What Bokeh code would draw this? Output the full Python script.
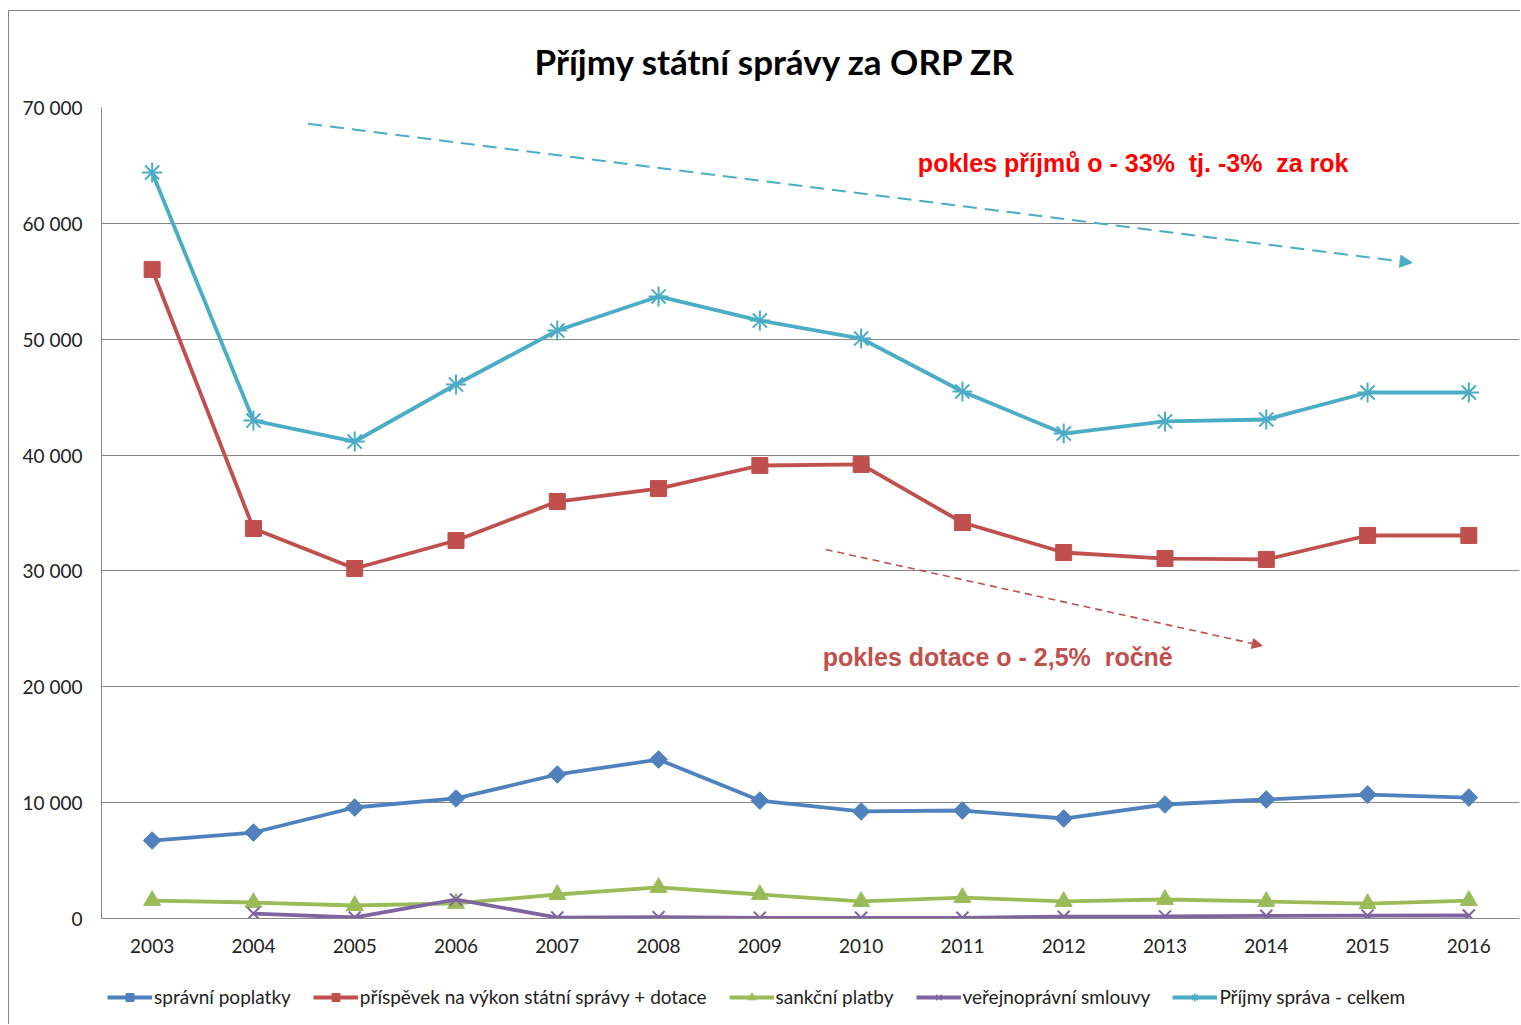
import math
from bokeh.plotting import figure
from bokeh.layouts import column
from bokeh.models import (Range1d, FixedTicker, Legend, LegendItem,
                          Arrow, NormalHead, Title)
from bokeh.embed import file_html
from bokeh.resources import INLINE
from bokeh.core.properties import value

# ---------------- data ----------------
years = ["2003", "2004", "2005", "2006", "2007", "2008", "2009",
         "2010", "2011", "2012", "2013", "2014", "2015", "2016"]
spravni_poplatky = [6730, 7420, 9580, 10360, 12430, 13720, 10180,
                    9240, 9320, 8630, 9840, 10270, 10700, 10440]
prispevek = [56020, 33660, 30210, 32630, 35990, 37110, 39100,
             39190, 34180, 31590, 31070, 30990, 33060, 33060]
sankcni = [1550, 1380, 1120, 1300, 2070, 2680, 2070,
           1470, 1810, 1470, 1640, 1470, 1290, 1550]
verejnopravni = [float("nan"), 430, 90, 1640, 80, 120, 60,
                 60, 60, 150, 180, 230, 250, 260]
celkem = [64390, 42980, 41170, 46090, 50750, 53690, 51610,
          50060, 45490, 41860, 42900, 43070, 45400, 45400]

series_names = ["správní poplatky", "příspěvek na výkon státní správy + dotace",
                "sankční platby", "veřejnoprávní smlouvy", "Příjmy správa - celkem"]

yticks = [0, 10000, 20000, 30000, 40000, 50000, 60000, 70000]
ytick_labels = ["0", "10 000", "20 000", "30 000", "40 000", "50 000", "60 000", "70 000"]

title_text = "Příjmy státní správy za ORP ZR"

# annotations (trend arrows + notes); x in category-slot units, y in data units
trend_total_x = [2.04, 12.94]
trend_total_y = [68600, 56600]
trend_dotace_x = [7.15, 11.46]
trend_dotace_y = [31850, 23550]
note_total = "pokles příjmů o - 33%\u00a0 tj. -3%\u00a0 za rok"
note_total_xy = [8.06, 65250]
note_dotace = "pokles dotace o - 2,5%\u00a0 ročně"
note_dotace_xy = [7.12, 22530]

# category slots: each year sits in the middle of its slot
xpos = [i + 0.5 for i in range(len(years))]

# ---------------- main figure ----------------
p = figure(x_range=Range1d(0, len(years)), y_range=Range1d(0, 70000),
           width=1511, height=952, output_backend="svg", toolbar_location=None,
           min_border_left=92, min_border_right=1, min_border_top=96, min_border_bottom=45)
p.outline_line_color = None
p.background_fill_color = "white"
p.border_fill_color = "white"

p.add_layout(Title(text=title_text, align="left", offset=433, text_font="Lato",
                   text_font_size="35px", text_font_style="bold", text_color="#000000",
                   standoff=51), "above")

grid_col = "#868686"
p.xgrid.grid_line_color = None
p.ygrid.grid_line_color = grid_col
p.ygrid.grid_line_width = 1
p.yaxis.ticker = FixedTicker(ticks=yticks)
p.yaxis.major_label_overrides = {t: l for t, l in zip(yticks, ytick_labels)}
p.xaxis.ticker = FixedTicker(ticks=xpos)
p.xaxis.major_label_overrides = {x: y for x, y in zip(xpos, years)}
for ax in (p.xaxis, p.yaxis):
    ax.axis_line_color = grid_col
    ax.major_tick_line_color = None
    ax.minor_tick_line_color = None
    ax.major_tick_out = 0
    ax.major_tick_in = 0
    ax.major_label_text_font = "Lato"
    ax.major_label_text_font_size = "19px"
    ax.major_label_text_color = "#222222"
p.yaxis.major_label_standoff = 19
p.xaxis.major_label_standoff = 20

colors = ["#4F81BD", "#C0504D", "#9BBB59", "#8064A2", "#4BACC6"]
datas = [spravni_poplatky, prispevek, sankcni, verejnopravni, celkem]
markers = ["square", "square", "triangle", "x", "asterisk"]
sizes = [12.5, 16, 17, 17, 20]
legend_sizes = [10, 12, 13, 13, 15]
angles = [math.pi / 4, 0, 0, 0, 0]

for col, d, m, s, a in zip(colors, datas, markers, sizes, angles):
    p.line(xpos, d, line_color=col, line_width=3.8)
    if m in ("x", "asterisk"):
        p.scatter(xpos, d, marker=m, size=s, line_color=col, line_width=2)
    else:
        p.scatter(xpos, d, marker=m, size=s, angle=a, fill_color=col, line_color=col)

# trend arrows
p.add_layout(Arrow(x_start=trend_total_x[0], y_start=trend_total_y[0],
                   x_end=trend_total_x[1], y_end=trend_total_y[1],
                   line_color="#4BACC6", line_width=2, line_dash="14 8",
                   end=NormalHead(size=12, fill_color="#4BACC6", line_color="#4BACC6")))
p.add_layout(Arrow(x_start=trend_dotace_x[0], y_start=trend_dotace_y[0],
                   x_end=trend_dotace_x[1], y_end=trend_dotace_y[1],
                   line_color="#C0504D", line_width=1.6, line_dash="7 5",
                   end=NormalHead(size=10, fill_color="#C0504D", line_color="#C0504D")))

p.text(x=[note_total_xy[0]], y=[note_total_xy[1]], text=[note_total],
       text_font=value("Liberation Sans"), text_font_style="bold", text_font_size="25px",
       text_color="#FF0000", text_baseline="middle", text_align="left")
p.text(x=[note_dotace_xy[0]], y=[note_dotace_xy[1]], text=[note_dotace],
       text_font=value("Liberation Sans"), text_font_style="bold", text_font_size="25px",
       text_color="#C0504D", text_baseline="middle", text_align="left")

# ---------------- legend strip below the chart ----------------
# the same series are drawn here far outside this strip's range, so only the legend shows
pl = figure(x_range=Range1d(0, 1), y_range=Range1d(-1, 0), width=1511, height=61,
            output_backend="svg", toolbar_location=None, x_axis_type=None, y_axis_type=None,
            min_border_left=0, min_border_right=0, min_border_top=0, min_border_bottom=0)
pl.outline_line_color = None
pl.grid.visible = False
pl.background_fill_color = "white"
pl.border_fill_color = "white"

items = []
for name, col, d, m, s, a in zip(series_names, colors, datas, markers, legend_sizes, angles):
    r1 = pl.line(xpos, d, line_color=col, line_width=3.8)
    if m in ("x", "asterisk"):
        r2 = pl.scatter(xpos, d, marker=m, size=s, line_color=col, line_width=1.5)
    else:
        r2 = pl.scatter(xpos, d, marker=m, size=s, angle=a, fill_color=col, line_color=col)
    items.append(LegendItem(label=name, renderers=[r1, r2]))

legend = Legend(items=items, orientation="horizontal", location=(6, 16),
                label_text_font="Lato", label_text_font_size="19px", label_text_color="#222222",
                glyph_width=45, glyph_height=20, spacing=22, label_standoff=2,
                border_line_color=None, background_fill_alpha=0, padding=0, margin=0)
pl.add_layout(legend, "center")

layout = column(p, pl, spacing=0)
layout.styles = {"margin-left": "8px", "margin-top": "10px",
                 "border-left": "1px solid #868686", "border-top": "1px solid #868686"}

open("out.html", "w").write(file_html(layout, INLINE))
